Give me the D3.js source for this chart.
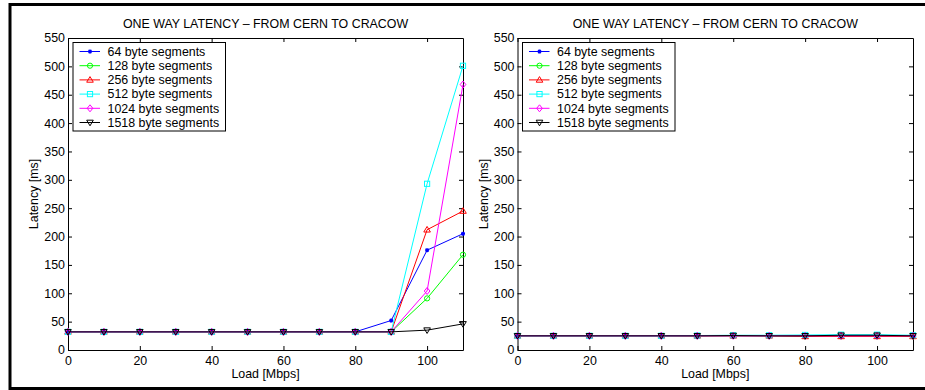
<!DOCTYPE html>
<html>
<head>
<meta charset="utf-8">
<script src="https://cdn.jsdelivr.net/npm/d3@7"></script>
<style>
  body { margin: 0; background: #fff; }
  svg { display: block; }
  text { font-family: "Liberation Sans", Arial, sans-serif; }
</style>
</head>
<body>
<div id="container"></div>
<script>
// load values (Mbps)
const loads = [0, 10, 20, 30, 40, 50, 60, 70, 80, 90, 100, 110];
const segLabels = ["64 byte segments", "128 byte segments", "256 byte segments",
  "512 byte segments", "1024 byte segments", "1518 byte segments"];

// left panel latency [ms]
const leftSeg64   = [32, 32, 32, 32, 32, 32, 32, 32, 32, 52, 176, 205];
const leftSeg128  = [32, 32, 32, 32, 32, 32, 32, 32, 32, 32, 91, 168];
const leftSeg256  = [32, 32, 32, 32, 32, 32, 32, 32, 32, 32, 212, 245];
const leftSeg512  = [32, 32, 32, 32, 32, 32, 32, 32, 32, 32, 293, 501];
const leftSeg1024 = [32, 32, 32, 32, 32, 32, 32, 32, 32, 32, 104, 468];
const leftSeg1518 = [32, 32, 32, 32, 32, 32, 32, 32, 32, 32, 35, 46];

// right panel latency [ms]
const rightSeg64   = [25, 25, 25, 25, 25, 25, 25, 25, 25, 25, 25, 25];
const rightSeg128  = [25, 25, 25, 25, 25, 25, 25, 25, 24, 24, 24, 24];
const rightSeg256  = [25, 25, 25, 25, 25, 25, 25, 25, 24, 24, 24, 24];
const rightSeg512  = [25, 25, 25, 25, 25, 25.5, 26, 26, 26.5, 27, 27, 26];
const rightSeg1024 = [25, 25, 25, 25, 25, 25, 25, 25, 25, 25, 25, 25];
const rightSeg1518 = [25, 25, 25, 25, 25, 25, 25.5, 25, 25, 26, 26, 25];

const xTicks = [0, 20, 40, 60, 80, 100];
const yTicks = [0, 50, 100, 150, 200, 250, 300, 350, 400, 450, 500, 550];

const colors = ["#0000ff", "#00ff00", "#ff0000", "#00ffff", "#ff00ff", "#000000"];
const markers = ["star", "circle", "triUp", "square", "diamond", "triDown"];

const width = 925, height = 390;
const svg = d3.select("#container").append("svg")
  .attr("width", width).attr("height", height);

// outer frame
svg.append("rect")
  .attr("x", 10).attr("y", 4.5).attr("width", 940).attr("height", 384)
  .attr("fill", "none").attr("stroke", "#000").attr("stroke-width", 3);

function drawMarker(g, type, cx, cy, color) {
  if (type === "circle") {
    g.append("circle").attr("cx", cx).attr("cy", cy).attr("r", 2.6)
      .attr("fill", "none").attr("stroke", color);
  } else if (type === "square") {
    g.append("rect").attr("x", cx - 2.6).attr("y", cy - 2.6).attr("width", 5.2).attr("height", 5.2)
      .attr("fill", "none").attr("stroke", color);
  } else if (type === "triUp") {
    g.append("path").attr("d", `M${cx},${cy - 3.3}L${cx + 3.3},${cy + 2.3}L${cx - 3.3},${cy + 2.3}Z`)
      .attr("fill", "none").attr("stroke", color);
  } else if (type === "triDown") {
    g.append("path").attr("d", `M${cx},${cy + 3.3}L${cx + 3.3},${cy - 2.3}L${cx - 3.3},${cy - 2.3}Z`)
      .attr("fill", "none").attr("stroke", color);
  } else if (type === "diamond") {
    g.append("path").attr("d", `M${cx},${cy - 3.5}L${cx + 2.8},${cy}L${cx},${cy + 3.5}L${cx - 2.8},${cy}Z`)
      .attr("fill", "none").attr("stroke", color);
  } else {
    g.append("path").attr("d", `M${cx - 2},${cy}L${cx + 2},${cy}M${cx},${cy - 2}L${cx},${cy + 2}` +
      `M${cx - 1.5},${cy - 1.5}L${cx + 1.5},${cy + 1.5}M${cx - 1.5},${cy + 1.5}L${cx + 1.5},${cy - 1.5}`)
      .attr("stroke", color).attr("stroke-width", 1.2);
  }
}

function drawPanel(left, right, series) {
  const top = 38, bottom = 350;
  const x = d3.scaleLinear().domain([0, 110]).range([left, right]);
  const y = d3.scaleLinear().domain([0, 550]).range([bottom, top]);
  const g = svg.append("g");

  const fmtNone = () => "";
  g.append("g").attr("transform", `translate(0,${bottom})`)
    .call(d3.axisBottom(x).tickValues(xTicks).tickSize(-4).tickSizeOuter(0).tickPadding(6))
    .call(a => a.selectAll("text").attr("font-size", 12.4).attr("fill", "#000"));
  g.append("g").attr("transform", `translate(0,${top})`)
    .call(d3.axisTop(x).tickValues(xTicks).tickSize(-4).tickSizeOuter(0).tickFormat(fmtNone));
  g.append("g").attr("transform", `translate(${left},0)`)
    .call(d3.axisLeft(y).tickValues(yTicks).tickSize(-4).tickSizeOuter(0).tickPadding(3))
    .call(a => a.selectAll("text").attr("font-size", 12.4).attr("fill", "#000"));
  g.append("g").attr("transform", `translate(${right},0)`)
    .call(d3.axisRight(y).tickValues(yTicks).tickSize(-4).tickSizeOuter(0).tickFormat(fmtNone));
  g.selectAll(".domain").attr("stroke", "#000");
  g.selectAll(".tick line").attr("stroke", "#000");

  const line = d3.line().x((d, i) => x(loads[i])).y(d => y(d));
  series.forEach((s, k) => {
    g.append("path").datum(s).attr("d", line)
      .attr("fill", "none").attr("stroke", colors[k]).attr("stroke-width", 1);
    s.forEach((v, i) => drawMarker(g, markers[k], x(loads[i]), y(v), colors[k]));
  });

  // title and labels
  svg.append("text").attr("x", (left + right) / 2).attr("y", 28)
    .attr("text-anchor", "middle").attr("font-size", 12.4)
    .text("ONE WAY LATENCY \u2013 FROM CERN TO CRACOW");
  svg.append("text").attr("x", (left + right) / 2).attr("y", 378)
    .attr("text-anchor", "middle").attr("font-size", 12.4).text("Load [Mbps]");
  svg.append("text").attr("transform", `translate(${left - 30},${(top + bottom) / 2}) rotate(-90)`)
    .attr("text-anchor", "middle").attr("font-size", 12.4).text("Latency [ms]");

  // legend
  const lx = left + 5, ly = top + 4.5;
  const leg = svg.append("g");
  leg.append("rect").attr("x", lx).attr("y", ly).attr("width", 152.5).attr("height", 88.5)
    .attr("fill", "#fff").attr("stroke", "#000");
  segLabels.forEach((lab, k) => {
    const cy = ly + 9 + k * 14.2;
    leg.append("line").attr("x1", lx + 6.5).attr("x2", lx + 27).attr("y1", cy).attr("y2", cy)
      .attr("stroke", colors[k]);
    drawMarker(leg, markers[k], lx + 17, cy, colors[k]);
    leg.append("text").attr("x", lx + 34.5).attr("y", cy).attr("dy", "0.35em")
      .attr("font-size", 12.4).text(lab);
  });
}

drawPanel(68, 463, [leftSeg64, leftSeg128, leftSeg256, leftSeg512, leftSeg1024, leftSeg1518]);
drawPanel(517.5, 913, [rightSeg64, rightSeg128, rightSeg256, rightSeg512, rightSeg1024, rightSeg1518]);
</script>
</body>
</html>
